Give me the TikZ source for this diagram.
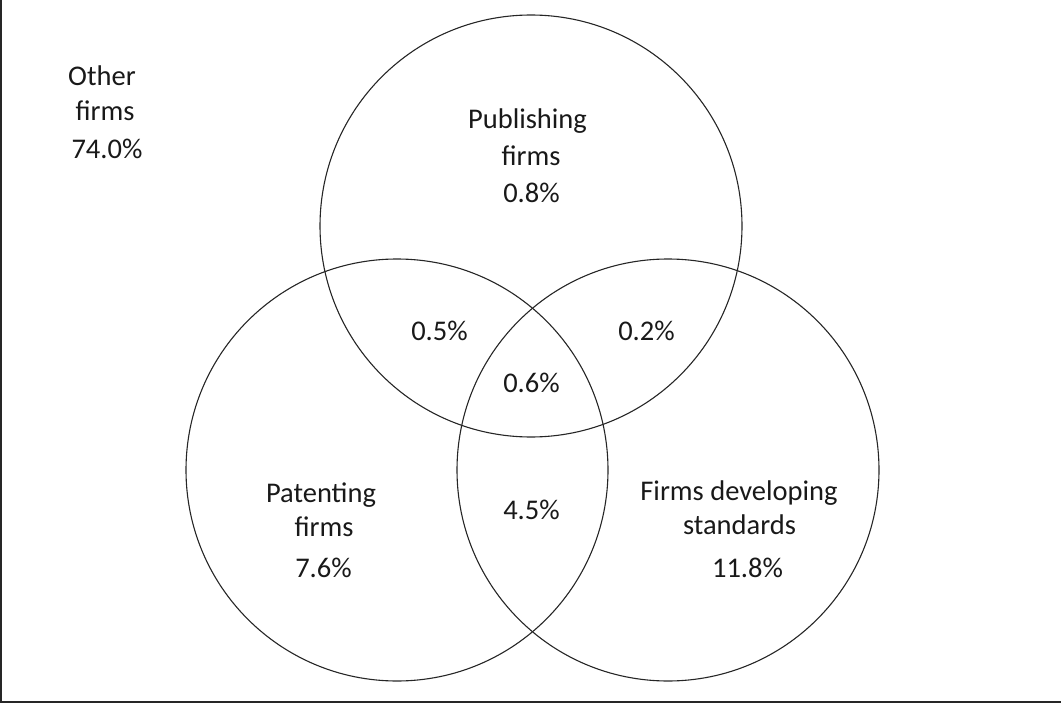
\documentclass[tikz,border=0pt]{standalone}
\usepackage{fontspec}
\setmainfont{Carlito}
\begin{document}
\begin{tikzpicture}[x=1pt,y=-1pt,
  venn/.style={draw=black!85,line width=1.1pt,circle,inner sep=0pt,minimum size=422pt},
  lbl/.style={anchor=base,inner sep=0pt,text=black!90,font=\fontsize{28.5}{34}\selectfont},
  frameline/.style={draw=black!85,line width=1.5pt}]
\useasboundingbox (0,0) rectangle (1061,706);
\coordinate (ftop) at (1,0);
\coordinate (fcorner) at (1,702);
\coordinate (fright) at (1061,702);
\draw[frameline] (ftop) -- (fcorner) -- (fright);
\node[venn] (pub) at (531,226) {};
\node[venn] (pat) at (397,470) {};
\node[venn] (std) at (668,470) {};
% Other firms
\node[lbl] (o1) at (102,86) {Other};
\node[lbl] (o2) at (105,121) {firms};
\node[lbl] (o3) at (107,159) {74.0\%};
% Publishing
\node[lbl] (p1) at (527.5,129) {Publishing};
\node[lbl] (p2) at (531,166) {firms};
\node[lbl] (p3) at (531.5,203) {0.8\%};
% overlaps
\node[lbl] (a1) at (439.5,340) {0.5\%};
\node[lbl] (a2) at (646.5,340) {0.2\%};
\node[lbl] (a3) at (531.5,392) {0.6\%};
\node[lbl] (a4) at (531.5,519) {4.5\%};
% Patenting
\node[lbl] (t1) at (321,502) {Patenting};
\node[lbl] (t2) at (324,536) {firms};
\node[lbl] (t3) at (323.5,577) {7.6\%};
% Standards
\node[lbl] (s1) at (739,500) {Firms developing};
\node[lbl] (s2) at (739.5,534) {standards};
\node[lbl] (s3) at (747.5,577) {11.8\%};
\end{tikzpicture}
\end{document}
